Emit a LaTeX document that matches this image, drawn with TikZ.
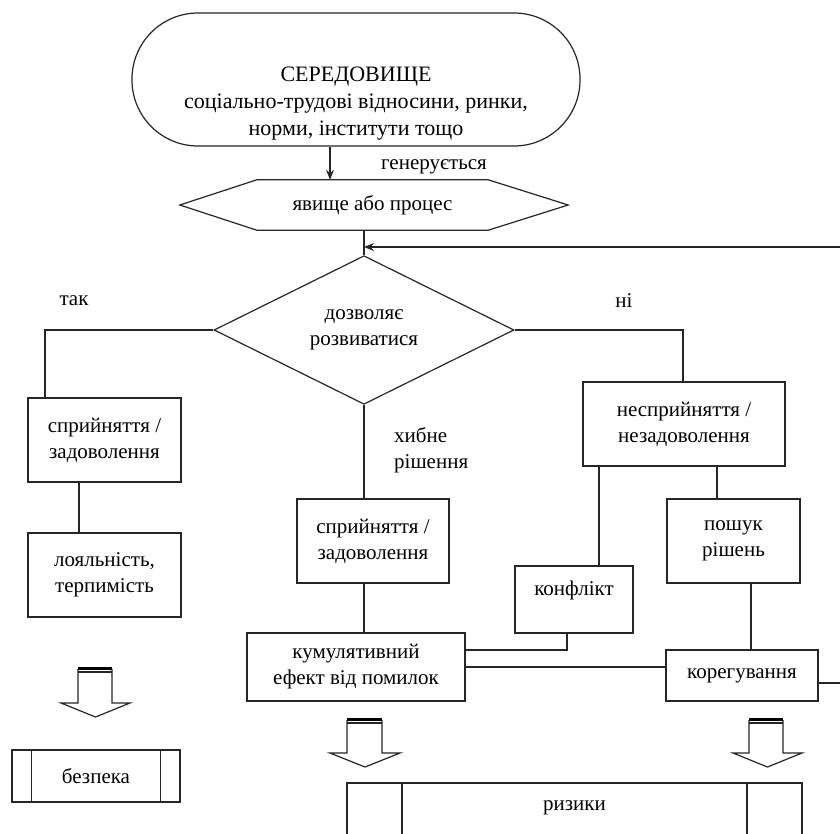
\documentclass[tikz,border=0pt]{standalone}
\usepackage{fontspec}
\setmainfont{Liberation Serif}
\usetikzlibrary{shapes.geometric,arrows.meta}

\tikzset{
  ln/.style={line width=1.2pt, draw=black!85},
  box/.style={ln, rectangle, align=center, inner sep=2pt},
  lbl/.style={align=left, inner sep=0pt},
  fat/.style={ln, fill=white, line join=miter},
}

\begin{document}
\begin{tikzpicture}[x=1pt,y=-1pt,font=\fontsize{21}{26}\selectfont]
  \fill[white] (0,0) rectangle (840,834);
  \useasboundingbox (0,0) rectangle (840,834);

  % environment and process
  \node[box, rounded corners=66pt, minimum width=448pt, minimum height=133pt] (env) at (356,79.5) {};
  \node[align=center, inner sep=0pt, font=\fontsize{22}{27}\selectfont] (envtxt) at (356,104)
    {СЕРЕДОВИЩЕ\\соціально-трудові відносини, ринки,\\норми, інститути тощо};
  \node[inner sep=0pt, minimum width=231pt, minimum height=50pt] (proc) at (372.5,205) {явище або процес};
  \draw[ln] (proc.north west) -- (proc.north east) -- ([xshift=80pt]proc.east) -- (proc.south east)
    -- (proc.south west) -- ([xshift=-77pt]proc.west) -- cycle;
  \coordinate (c1) at (330,0);
  \draw[ln,-{Stealth[length=10pt,width=8pt]}] (env.south -| c1) -- (proc.north -| c1);
  \node[lbl] (gen) at (434,167) {генерується};

  % decision
  \node[ln, diamond, inner sep=0pt, minimum width=300pt, minimum height=133pt, align=center] (dec) at (364,330)
    {дозволяє\\розвиватися};
  \node[lbl] (yes) at (74,301) {так};
  \node[lbl] (no) at (624,301) {ні};
  \node[lbl, anchor=west] (wrong) at (394,450) {хибне\\рішення};

  % left branch
  \node[box, minimum width=153pt, minimum height=84pt] (acc1) at (104.5,440) {сприйняття /\\задоволення};
  \node[box, minimum width=153pt, minimum height=84pt] (loyal) at (104.5,575) {лояльність,\\терпимість};
  \node[box, minimum width=168pt, minimum height=52pt] (safe) at (96,776) {безпека};
  \draw[ln] ([xshift=20pt]safe.north west) -- ([xshift=20pt]safe.south west);
  \draw[ln] ([xshift=-20pt]safe.north east) -- ([xshift=-20pt]safe.south east);

  % middle branch
  \node[box, minimum width=152pt, minimum height=84pt] (acc2) at (373,541) {сприйняття /\\задоволення};
  \node[box, minimum width=218pt, minimum height=68pt] (cum) at (356,667) {кумулятивний\\ефект від помилок};

  % right branch
  \node[box, minimum width=202pt, minimum height=84pt] (rej) at (684,424) {несприйняття /\\незадоволення};
  \node[box, minimum width=118pt, minimum height=67pt, text depth=22pt] (conf) at (574,599.5) {конфлікт};
  \node[box, minimum width=133pt, minimum height=84pt] (search) at (733.5,541) {пошук\\рішень};
  \node[box, minimum width=152pt, minimum height=51pt] (corr) at (742,675.5) {корегування};

  % risks
  \draw[ln] (347,783) rectangle (802,880);
  \draw[ln] (402,783) -- (402,880);
  \draw[ln] (747,783) -- (747,880);
  \node (risk) at (574.5,808) {ризики};

  % connectors
  \coordinate (c2) at (45,0);
  \coordinate (c3) at (683,0);
  \coordinate (c4) at (79,0);
  \coordinate (c5) at (599,0);
  \coordinate (c6) at (717,0);
  \coordinate (c7) at (751,0);
  \coordinate (c8) at (567,0);
  \coordinate (c9) at (0,650);
  \coordinate (c10) at (0,667);
  \coordinate (c11) at (0,683);
  \coordinate (c12) at (0,247);
  \coordinate (edge) at (843,0);
  \draw[ln] (proc.south -| dec.north) -- (dec.north);
  \draw[ln] (dec.west) -| (acc1.north -| c2);
  \draw[ln] (dec.east) -| (rej.north -| c3);
  \draw[ln] (dec.south) -- (acc2.north -| dec.south);
  \draw[ln] (acc1.south -| c4) -- (loyal.north -| c4);
  \draw[ln] (acc2.south -| dec.south) -- (cum.north -| dec.south);
  \draw[ln] (rej.south -| c5) -- (conf.north -| c5);
  \draw[ln] (rej.south -| c6) -- (search.north -| c6);
  \draw[ln] (search.south -| c7) -- (corr.north -| c7);
  \draw[ln] (conf.south -| c8) -- (c8 |- c9) -- (cum.east |- c9);
  \draw[ln] (cum.east |- c10) -- (corr.west |- c10);
  \draw[ln,-{Stealth[length=10pt,width=8pt]}] (corr.east |- c11) -- (edge |- c11) -- (edge |- c12)
    -- (dec.north |- c12);

  % outcome arrows
  \draw[fat] (78,669) -- (78,703) -- (61,703) -- (95.5,717) -- (130,703) -- (112,703) -- (112,669);
  \draw[line width=3pt] (78,668) -- (112,668);
  \draw[ln] (78,672) -- (112,672);
  \draw[fat] (347,720) -- (347,753) -- (330,753) -- (365,767) -- (400,753) -- (382,753) -- (382,720);
  \draw[line width=3pt] (347,719) -- (382,719);
  \draw[ln] (347,723) -- (382,723);
  \draw[fat] (749,720) -- (749,753) -- (733,753) -- (767.5,767) -- (802,753) -- (783,753) -- (783,720);
  \draw[line width=3pt] (749,719) -- (783,719);
  \draw[ln] (749,723) -- (783,723);
\end{tikzpicture}
\end{document}
